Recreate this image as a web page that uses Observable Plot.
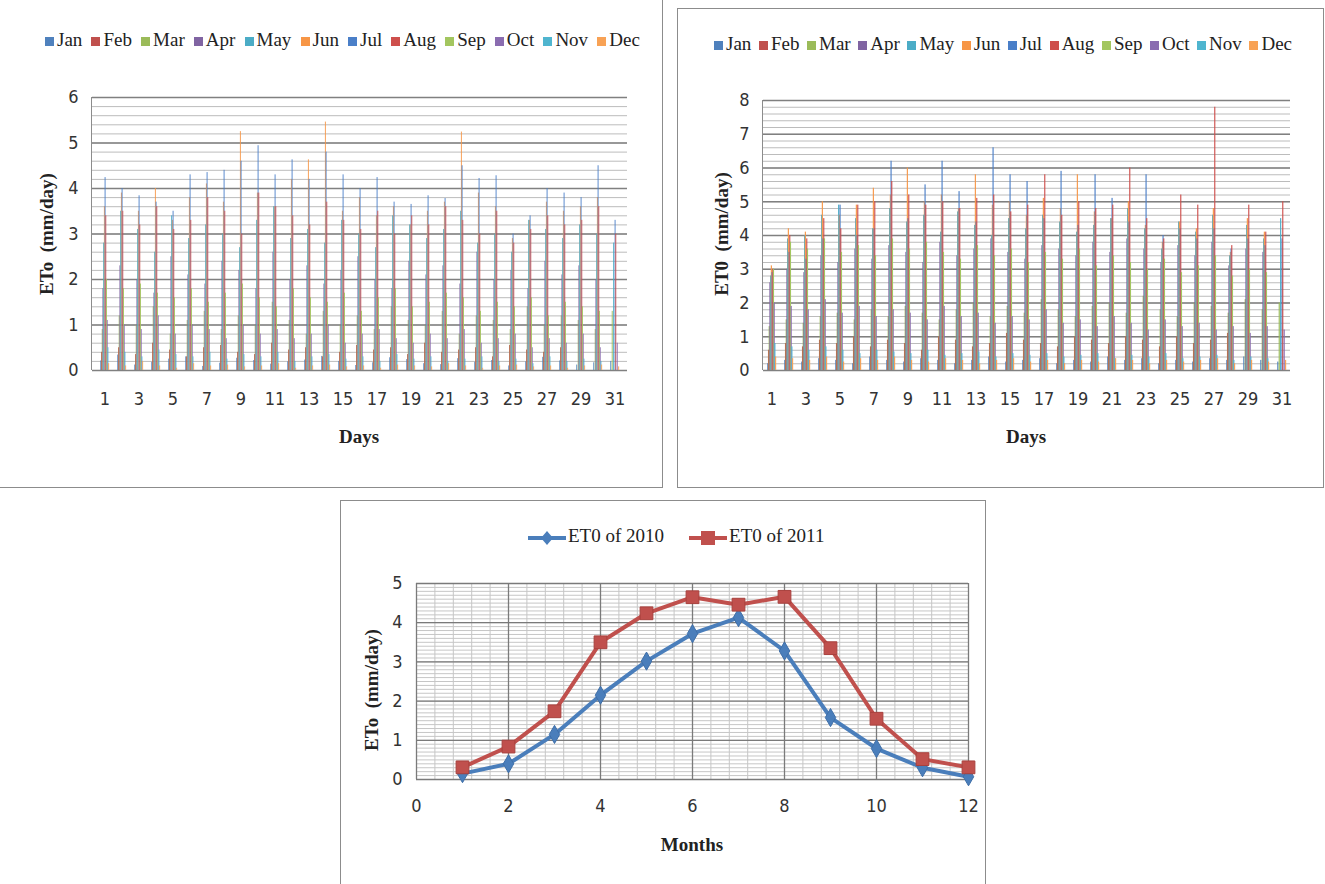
<!DOCTYPE html>
<html><head><meta charset="utf-8">
<script src="https://cdn.jsdelivr.net/npm/d3@7"></script>
<script src="https://cdn.jsdelivr.net/npm/@observablehq/plot@0.6"></script>
<style>
body{margin:0;background:#fff;width:1325px;height:884px;overflow:hidden;position:relative;font-family:"Liberation Serif",serif}
.panel{position:absolute;box-sizing:border-box;border:1.5px solid #8c8c8c;background:#fff}
.holder{position:absolute}
.legend{position:absolute;display:flex;justify-content:space-between;align-items:center;font-family:"Liberation Serif",serif;font-size:19px;color:#222;transform:translateY(-50%);white-space:nowrap}
.legend .sw{display:inline-block;width:9px;height:9px;margin-right:3px}
.title{position:absolute;font-family:"Liberation Serif",serif;font-weight:bold;font-size:19px;color:#222;white-space:nowrap;transform:translate(-50%,-50%)}
.rot{transform:translate(-50%,-50%) rotate(-90deg)}
.vline{position:absolute;width:0;border-left:1.5px solid #8c8c8c}
</style></head><body>
<script>
// ---------- categories ----------
const months = ["Jan","Feb","Mar","Apr","May","Jun","Jul","Aug","Sep","Oct","Nov","Dec"];
const days = [1,2,3,4,5,6,7,8,9,10,11,12,13,14,15,16,17,18,19,20,21,22,23,24,25,26,27,28,29,30,31];
const oddDays = [1,3,5,7,9,11,13,15,17,19,21,23,25,27,29,31];
const monthColors = ["#4F81BD","#C0504D","#9BBB59","#8064A2","#4BACC6","#F79646","#4A7FC8","#CE4F4C","#A3C65F","#8A6CB0","#4FB5CF","#F8A255"];

// ---------- daily ETo 2010 (mm/day), index = day-1 ----------
const jan2010 = [0.21,0.34,0.12,0.18,0.25,0.30,0.09,0.16,0.27,0.22,0.14,0.19,0.23,0.31,0.20,0.11,0.17,0.28,0.24,0.15,0.13,0.26,0.18,0.22,0.10,0.19,0.29,0.21,0.12,0.17,0.20];
const feb2010 = [0.40,0.50,0.35,0.60,0.45,0.30,0.50,0.55,0.40,0.35,0.60,0.45,0.50,0.30,0.40,0.55,0.45,0.50,0.35,0.60,0.40,0.45,0.50,0.30,0.55,0.45,0.40,0.50,null,null,null];
const mar2010 = [0.9,1.2,1.0,1.4,0.8,1.1,1.3,0.9,1.2,1.0,1.5,1.1,0.8,1.3,1.0,1.2,0.9,1.4,1.1,1.0,1.3,0.8,1.2,1.1,0.9,1.4,1.0,1.2,1.1,0.9,1.3];
const apr2010 = [1.8,2.3,2.0,1.7,2.5,2.1,1.9,2.4,2.2,1.8,2.6,2.0,2.3,1.9,2.2,2.5,2.0,1.8,2.4,2.1,2.3,1.9,2.6,2.0,2.2,1.8,2.4,2.1,2.3,2.0,null];
const may2010 = [2.8,3.5,3.1,2.6,3.4,2.9,3.2,3.0,2.7,3.3,3.6,2.9,3.1,2.8,3.3,3.0,2.7,3.4,3.2,2.9,3.1,3.5,2.8,3.0,2.6,3.3,3.1,2.9,3.2,3.0,2.8];
const jun2010 = [3.6,3.9,3.5,4.0,3.3,3.8,4.1,3.7,5.25,3.9,3.6,4.2,4.63,5.46,3.5,3.8,3.4,3.6,3.2,3.5,3.7,5.24,3.9,3.6,2.9,3.3,3.7,3.5,3.6,3.8,null];
const jul2010 = [4.24,4.0,3.84,3.7,3.5,4.3,4.35,4.4,4.6,4.94,4.3,4.63,4.2,4.8,4.3,4.0,4.24,3.7,3.65,3.84,3.78,4.5,4.22,4.28,3.0,3.4,4.0,3.9,3.8,4.5,3.3];
const aug2010 = [3.4,3.5,3.2,3.6,3.1,3.3,3.8,3.5,3.0,3.9,3.6,3.4,3.2,3.7,3.3,3.1,3.5,3.0,3.4,3.2,3.6,3.3,3.0,3.5,2.8,3.1,3.4,3.2,3.3,3.6,3.0];
const sep2010 = [2.0,1.8,1.9,1.7,1.6,1.8,1.5,1.7,1.9,1.6,1.4,1.8,1.6,1.5,1.7,1.3,1.6,1.8,1.4,1.5,1.7,1.6,1.3,1.5,1.4,1.6,1.2,1.5,1.4,1.3,null];
const oct2010 = [1.1,1.0,0.9,1.2,0.8,1.0,0.9,0.7,1.0,0.8,0.9,0.7,0.8,1.0,0.6,0.8,0.9,0.7,0.6,0.8,0.7,0.9,0.6,0.7,0.8,0.5,0.7,0.6,0.8,0.5,0.6];
const nov2010 = [0.5,0.4,0.3,0.45,0.35,0.3,0.4,0.25,0.35,0.3,0.4,0.2,0.3,0.35,0.25,0.3,0.2,0.35,0.25,0.3,0.2,0.25,0.3,0.2,0.25,0.15,0.3,0.2,0.25,0.2,null];
const dec2010 = [0.15,0.1,0.2,0.1,0.05,0.15,0.1,0.12,0.08,0.1,0.15,0.05,0.1,0.12,0.08,0.1,0.05,0.12,0.1,0.08,0.15,0.1,0.05,0.1,0.12,0.08,0.1,0.05,0.1,0.12,0.08];

// ---------- daily ET0 2011 (mm/day) ----------
const jan2011 = [0.2,0.3,0.25,0.35,0.3,0.2,0.4,0.3,0.25,0.35,0.3,0.2,0.3,0.4,0.25,0.3,0.35,0.2,0.3,0.25,0.4,0.3,0.35,0.2,0.3,0.25,0.35,0.3,0.4,0.3,0.25];
const feb2011 = [0.6,0.8,0.7,0.9,0.8,1.0,0.7,0.9,0.8,0.6,1.0,0.9,0.7,0.8,1.1,0.9,0.8,0.7,1.0,0.9,0.8,1.0,0.9,0.7,1.0,0.8,0.9,1.1,null,null,null];
const mar2011 = [1.3,1.5,1.4,1.6,1.7,1.5,1.8,1.6,1.9,1.7,1.5,1.8,2.0,1.6,1.9,1.7,2.1,1.8,1.6,1.9,2.0,1.7,2.2,1.8,1.6,2.0,1.9,1.7,2.1,1.8,2.0];
const apr2011 = [2.6,3.0,2.9,3.4,3.2,3.6,3.3,3.7,3.5,3.2,3.8,3.4,3.6,3.9,3.5,3.3,3.7,3.6,3.4,3.8,3.5,3.9,3.6,3.2,3.7,3.4,3.8,3.1,3.6,3.5,null];
const may2011 = [2.8,3.9,4.0,4.6,4.9,4.5,4.2,4.8,4.4,4.6,4.1,4.7,4.3,4.0,4.5,4.2,4.6,4.4,4.1,4.3,4.5,4.8,4.2,3.6,4.4,4.1,4.6,3.4,4.3,3.9,4.5];
const jun2011 = [3.1,4.2,4.1,5.0,4.6,4.9,5.4,5.2,6.0,5.0,5.2,4.8,5.8,4.9,5.0,4.6,5.1,4.8,5.8,4.7,4.5,5.0,4.3,3.8,4.4,4.2,4.8,3.5,4.5,4.1,null];
const jul2011 = [2.9,3.5,3.3,3.9,4.9,4.0,4.2,6.2,4.5,5.5,6.2,5.3,4.4,6.6,5.8,5.6,4.5,5.9,4.3,5.8,5.1,4.4,5.8,4.0,4.2,3.9,4.2,3.6,3.9,3.7,3.9];
const aug2011 = [3.0,4.0,3.9,4.5,4.2,4.9,5.0,5.6,5.2,4.9,5.0,4.8,5.1,5.2,4.7,4.9,5.8,4.6,5.0,4.8,4.9,6.0,4.5,3.9,5.2,4.9,7.8,3.7,4.9,4.1,5.0];
const sep2011 = [3.0,3.8,3.6,3.9,3.5,3.7,3.4,3.9,3.6,3.8,3.5,3.3,3.7,3.4,3.6,3.2,3.5,3.3,3.6,3.1,3.4,3.2,3.0,3.3,2.9,3.1,3.4,2.8,3.0,2.9,null];
const oct2011 = [2.0,1.9,1.8,2.1,1.7,1.9,1.6,1.8,1.7,1.5,1.9,1.6,1.7,1.4,1.6,1.5,1.8,1.4,1.5,1.3,1.6,1.4,1.2,1.5,1.3,1.4,1.2,1.3,1.1,1.3,1.2];
const nov2011 = [0.8,0.7,0.6,0.7,0.6,0.5,0.6,0.55,0.5,0.6,0.45,0.5,0.55,0.4,0.5,0.45,0.5,0.4,0.45,0.5,0.35,0.45,0.4,0.5,0.35,0.4,0.45,0.3,0.4,0.35,null];
const dec2011 = [0.4,0.35,0.3,0.4,0.25,0.35,0.3,0.4,0.3,0.25,0.35,0.3,0.2,0.3,0.35,0.25,0.3,0.2,0.3,0.25,0.35,0.3,0.2,0.3,0.25,0.3,0.35,0.2,0.3,0.25,0.3];

// ---------- monthly mean ETo ----------
const monthNums = [1,2,3,4,5,6,7,8,9,10,11,12];
const eto2010 = [0.15,0.40,1.15,2.15,3.02,3.72,4.13,3.28,1.58,0.79,0.30,0.07];
const eto2011 = [0.31,0.84,1.74,3.50,4.24,4.65,4.46,4.66,3.35,1.55,0.52,0.31];

// ---------- tick labels ----------
const yTicks2010 = [0,1,2,3,4,5,6];
const yTicks2011 = [0,1,2,3,4,5,6,7,8];
const xTicksMonthly = [0,2,4,6,8,10,12];
const yTicksMonthly = [0,1,2,3,4,5];

const TICKFONT = '"Liberation Sans Narrow","DejaVu Sans Condensed","Liberation Sans",sans-serif';

function el(tag, cls, css, html) {
  const e = document.createElement(tag);
  if (cls) e.className = cls;
  Object.assign(e.style, css || {});
  if (html != null) e.innerHTML = html;
  document.body.appendChild(e);
  return e;
}

function monthRows(values) {
  return values.map((v, j) => ({day: days[j], value: v})).filter(d => d.value != null);
}

function dailyChart(series, yMax, yTicks, box) {
  const minor = d3.range(0, yMax + 1e-9, 0.2);
  const plotW = box.w - box.ml - box.mr;
  const bw = plotW / days.length;          // width of one day band (px)
  const cluster = bw * 0.5;                // width occupied by the 12 bars
  const slot = cluster / months.length;
  const barW = slot * 1.6;                 // bars slightly overlap, as in the blurred original
  const lead = (bw - cluster) / 2;
  const barMarks = months.map((m, k) =>
    Plot.barY(monthRows(series[k]), {
      x: "day", y: "value", fill: monthColors[k],
      insetLeft: lead + k * slot, insetRight: bw - lead - k * slot - barW
    }));
  const plot = Plot.plot({
    width: box.w, height: box.h,
    marginLeft: box.ml, marginRight: box.mr, marginTop: box.mt, marginBottom: box.mb,
    style: {fontFamily: TICKFONT, fontSize: "18px", color: "#333", background: "transparent", overflow: "visible"},
    x: {domain: days, padding: 0},
    y: {domain: [0, yMax]},
    marks: [
      Plot.ruleY(minor, {stroke: "#bcbcbc", strokeWidth: 1}),
      Plot.ruleY(yTicks, {stroke: "#808080", strokeWidth: 1.6}),
      ...barMarks,
      Plot.axisY(yTicks, {tickSize: 0, tickPadding: 14, label: null}),
      Plot.axisX(oddDays, {tickSize: 0, tickPadding: 22, label: null})
    ]
  });
  const h = el("div", "holder", {left: box.x + "px", top: box.y + "px"});
  h.appendChild(plot);
  el("div", "vline", {left: (box.x + box.ml - 1) + "px", top: (box.y + box.mt) + "px", height: (box.h - box.mt - box.mb) + "px"});
}

function monthLegend(x, y, w) {
  const lg = el("div", "legend", {left: x + "px", top: y + "px", width: w + "px"});
  lg.innerHTML = months.map((m, i) =>
    `<span><span class="sw" style="background:${monthColors[i]}"></span>${m}</span>`).join("");
}

// ---------- panel frames ----------
el("div", "panel", {left: "-2px", top: "-2px", width: "665px", height: "490px"});
el("div", "panel", {left: "677px", top: "8px", width: "647px", height: "480px"});
el("div", "panel", {left: "340px", top: "500px", width: "646px", height: "400px"});

// ---------- panel 1 : 2010 daily ----------
monthLegend(45, 40, 595);
dailyChart([jan2010,feb2010,mar2010,apr2010,may2010,jun2010,jul2010,aug2010,sep2010,oct2010,nov2010,dec2010],
  6, yTicks2010, {x: 0, y: 0, w: 663, h: 487, ml: 92, mr: 36, mt: 97, mb: 117});
el("div", "title rot", {left: "47px", top: "234px"}, "ETo&nbsp; (mm/day)");
el("div", "title", {left: "359px", top: "437px"}, "Days");

// ---------- panel 2 : 2011 daily ----------
monthLegend(714, 44, 578);
dailyChart([jan2011,feb2011,mar2011,apr2011,may2011,jun2011,jul2011,aug2011,sep2011,oct2011,nov2011,dec2011],
  8, yTicks2011, {x: 677, y: 0, w: 648, h: 487, ml: 86, mr: 35, mt: 100, mb: 117});
el("div", "title rot", {left: "722px", top: "234px"}, "ET0&nbsp; (mm/day)");
el("div", "title", {left: "1026px", top: "437px"}, "Days");

// ---------- panel 3 : monthly ----------
const rows2010 = monthNums.map((m, i) => ({month: m, value: eto2010[i]}));
const rows2011 = monthNums.map((m, i) => ({month: m, value: eto2011[i]}));
const BLUE = "#4A7EBB", RED = "#C0504D";
const monthly = Plot.plot({
  width: 645, height: 384, marginLeft: 76, marginRight: 17, marginTop: 83, marginBottom: 105,
  style: {fontFamily: TICKFONT, fontSize: "18px", color: "#333", background: "transparent", overflow: "visible"},
  x: {domain: [0, 12]},
  y: {domain: [0, 5]},
  marks: [
    Plot.ruleY(d3.range(0, 5.0001, 0.1), {stroke: "#c6c6c6", strokeWidth: 1}),
    Plot.ruleX(d3.range(0, 12.0001, 0.4), {stroke: "#c6c6c6", strokeWidth: 1}),
    Plot.ruleY(yTicksMonthly, {stroke: "#7a7a7a", strokeWidth: 1.3}),
    Plot.ruleX(xTicksMonthly, {stroke: "#7a7a7a", strokeWidth: 1.3}),
    Plot.line(rows2010, {x: "month", y: "value", stroke: BLUE, strokeWidth: 4}),
    Plot.line(rows2011, {x: "month", y: "value", stroke: RED, strokeWidth: 4}),
    Plot.dot(rows2010, {x: "month", y: "value", symbol: "diamond", r: 5.5, fill: BLUE, stroke: "#3f6fa8", strokeWidth: 1}),
    Plot.dot(rows2011, {x: "month", y: "value", symbol: "square", r: 7.2, fill: RED, stroke: "#a8403d", strokeWidth: 1}),
    Plot.axisX(xTicksMonthly, {tickSize: 0, tickPadding: 20, label: null}),
    Plot.axisY(yTicksMonthly, {tickSize: 0, tickPadding: 14, label: null})
  ]
});
el("div", "holder", {left: "340px", top: "500px"}).appendChild(monthly);
el("div", "title rot", {left: "372px", top: "690px"}, "ETo&nbsp; (mm/day)");
el("div", "title", {left: "692px", top: "845px"}, "Months");

function lineKey(color, shape) {
  const marker = shape === "diamond"
    ? `<path d="M19,1 L25,8 L19,15 L13,8 Z" fill="${color}"/>`
    : `<rect x="12" y="1" width="14" height="14" fill="${color}"/>`;
  return `<svg width="38" height="16" style="vertical-align:middle;margin-right:2px"><line x1="0" y1="8" x2="38" y2="8" stroke="${color}" stroke-width="4"/>${marker}</svg>`;
}
const lg3 = el("div", "legend", {left: "528px", top: "536px", justifyContent: "flex-start", gap: "25px"});
lg3.innerHTML = `<span>${lineKey(BLUE, "diamond")}ET0 of 2010</span><span>${lineKey(RED, "square")}ET0 of 2011</span>`;
</script>
</body></html>
